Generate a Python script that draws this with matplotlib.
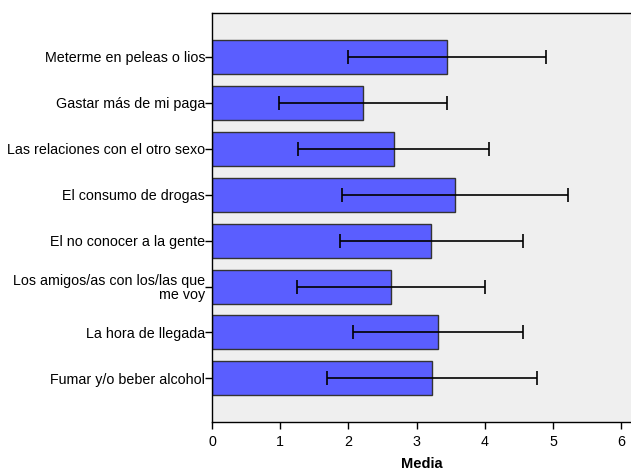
import matplotlib
matplotlib.use("Agg")
import matplotlib.pyplot as plt
import numpy as np

plt.rcParams["font.family"] = ["Liberation Sans", "DejaVu Sans"]

labels = [
    "Meterme en peleas o lios",
    "Gastar más de mi paga",
    "Las relaciones con el otro sexo",
    "El consumo de drogas",
    "El no conocer a la gente",
    "Los amigos/as con los/las que\nme voy",
    "La hora de llegada",
    "Fumar y/o beber alcohol",
]
means = [3.45, 2.21, 2.66, 3.56, 3.21, 2.62, 3.31, 3.22]
sds = [1.45, 1.23, 1.40, 1.65, 1.34, 1.38, 1.25, 1.54]

fig = plt.figure(figsize=(6.31, 4.71), dpi=100)
ax = fig.add_axes([0.336, 0.104, 0.664, 0.868])
ax.set_facecolor("#efefef")

y = np.arange(len(labels))
ax.barh(y, means, height=0.74, color="#5a5eff", edgecolor="#333333", linewidth=1)
ax.errorbar(means, y, xerr=sds, fmt="none", ecolor="black", elinewidth=1.2,
            capsize=5, capthick=1.2)

ax.set_yticks(y)
ax.set_yticklabels(labels, fontsize=10.3, multialignment="right", linespacing=1.0)
ax.set_ylim(len(labels) - 1 + 0.95, -0.95)
ax.set_xlim(0, 6.14)
ax.set_xticks(range(7))
ax.tick_params(axis="x", labelsize=10.3, length=5, width=1, pad=4)
ax.tick_params(axis="y", length=5, width=1, pad=0)
ax.set_xlabel("Media", fontsize=10.5, fontweight="bold", labelpad=6)

ax.spines["right"].set_visible(False)
for s in ("left", "top", "bottom"):
    ax.spines[s].set_linewidth(1)

fig.savefig("out.png", dpi=100)
